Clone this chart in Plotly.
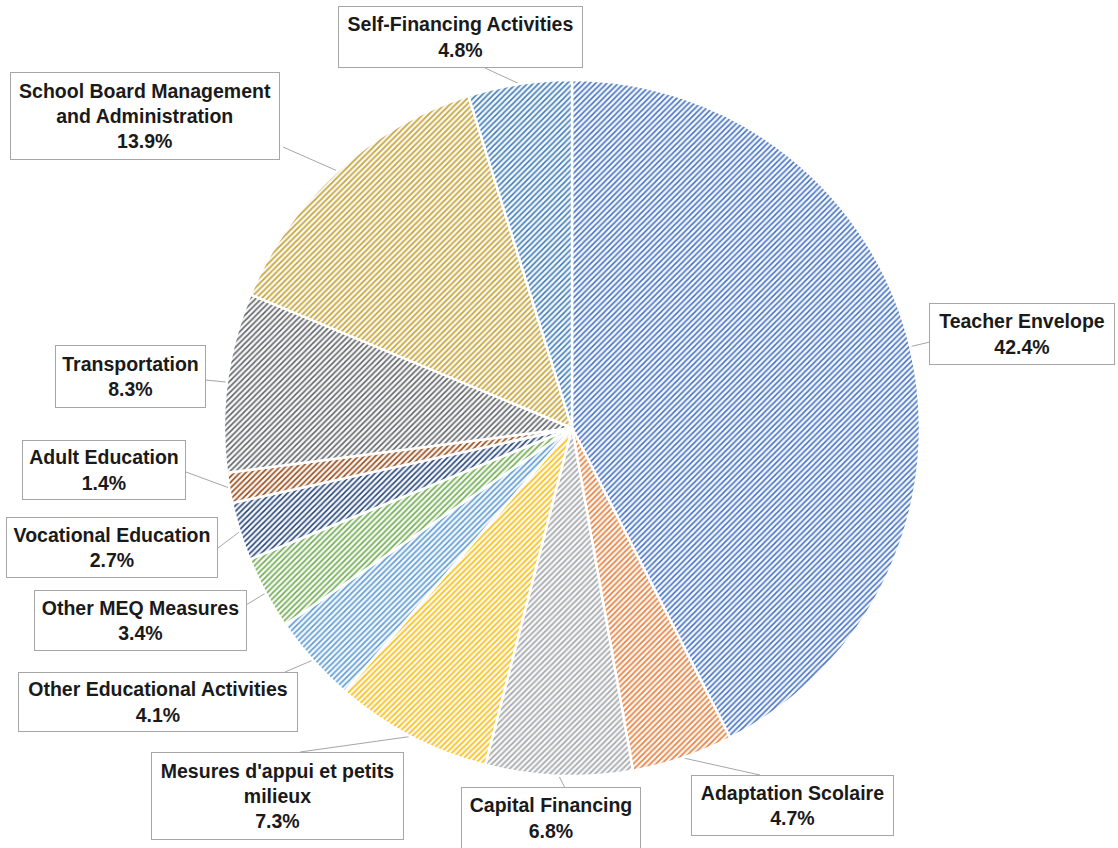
import math
import plotly.graph_objects as go

W, H = 1118, 848

categories = ["Teacher Envelope", "Adaptation Scolaire", "Capital Financing",
              "Mesures d'appui et petits milieux", "Other Educational Activities",
              "Other MEQ Measures", "Vocational Education", "Adult Education",
              "Transportation", "School Board Management and Administration",
              "Self-Financing Activities"]
values = [42.4, 4.7, 6.8, 7.3, 4.1, 3.4, 2.7, 1.4, 8.3, 13.9, 4.8]
label_text = ["Teacher Envelope", "Adaptation Scolaire", "Capital Financing",
              "Mesures d'appui et petits<br>milieux", "Other Educational Activities",
              "Other MEQ Measures", "Vocational Education", "Adult Education",
              "Transportation", "School Board Management<br>and Administration",
              "Self-Financing Activities"]
colors = ["#4472C4", "#ED7D31", "#A5A5A5", "#FFC000", "#5B9BD5", "#70AD47",
          "#264478", "#9E480E", "#636363", "#C9A227", "#3E7CB8"]

# layout: pie centre / radius in pixels, label boxes (centre x, centre y, w, h) and leader anchor
cx, cy, R = 572, 428, 348
boxes = [
    (1022, 334, 186, 62, 930, 342),
    (792, 805, 203, 61, 760, 775),
    (551, 818, 180, 62, 565, 788),
    (277, 796, 253, 88, 300, 752),
    (158, 702, 280, 60, 285, 672),
    (140, 620, 213, 61, 246, 605),
    (112, 547, 212, 61, 218, 548),
    (104, 470, 164, 60, 186, 472),
    (130, 376, 151, 63, 205, 380),
    (145, 116, 270, 88, 283, 147),
    (460, 37, 245, 62, 485, 68),
]

fig = go.Figure(go.Pie(
    labels=categories, values=values, sort=False, direction="clockwise",
    rotation=0, textinfo="none", hoverinfo="label+percent",
    marker=dict(colors=colors, line=dict(color="white", width=2.5),
                pattern=dict(shape="/", fgcolor=colors, bgcolor="#F6F8FB",
                             size=4, solidity=0.38, fillmode="replace")),
    domain=dict(x=[(cx - R) / W, (cx + R) / W],
                y=[1 - (cy + R) / H, 1 - (cy - R) / H]),
    showlegend=False,
))

total = sum(values)
annotations, shapes = [], []
cum = 0.0
for i, v in enumerate(values):
    mid = (cum + v / 2) / total * 2 * math.pi
    cum += v
    ex = cx + R * math.sin(mid)
    ey = cy - R * math.cos(mid)
    bx, by, bw, bh, ax, ay = boxes[i]
    shapes.append(dict(type="line", xref="paper", yref="paper", layer="below",
                       x0=ex / W, y0=1 - ey / H, x1=ax / W, y1=1 - ay / H,
                       line=dict(color="#A6A6A6", width=1)))
    annotations.append(dict(
        x=bx / W, y=1 - by / H, xref="paper", yref="paper", showarrow=False,
        xanchor="center", yanchor="middle",
        text=f"<b>{label_text[i]}<br>{v:.1f}%</b>", align="center",
        width=bw - 4, height=bh - 4, bgcolor="white", bordercolor="#A6A6A6",
        borderwidth=1, borderpad=1,
        font=dict(family="Liberation Sans, Arial", size=19.5, color="#1a1a1a")))

fig.update_layout(width=W, height=H, margin=dict(l=0, r=0, t=0, b=0),
                  paper_bgcolor="white", plot_bgcolor="white",
                  annotations=annotations, shapes=shapes)
fig.write_html("out.html", config={"displayModeBar": False},
               post_script="document.body.style.margin='0';")
